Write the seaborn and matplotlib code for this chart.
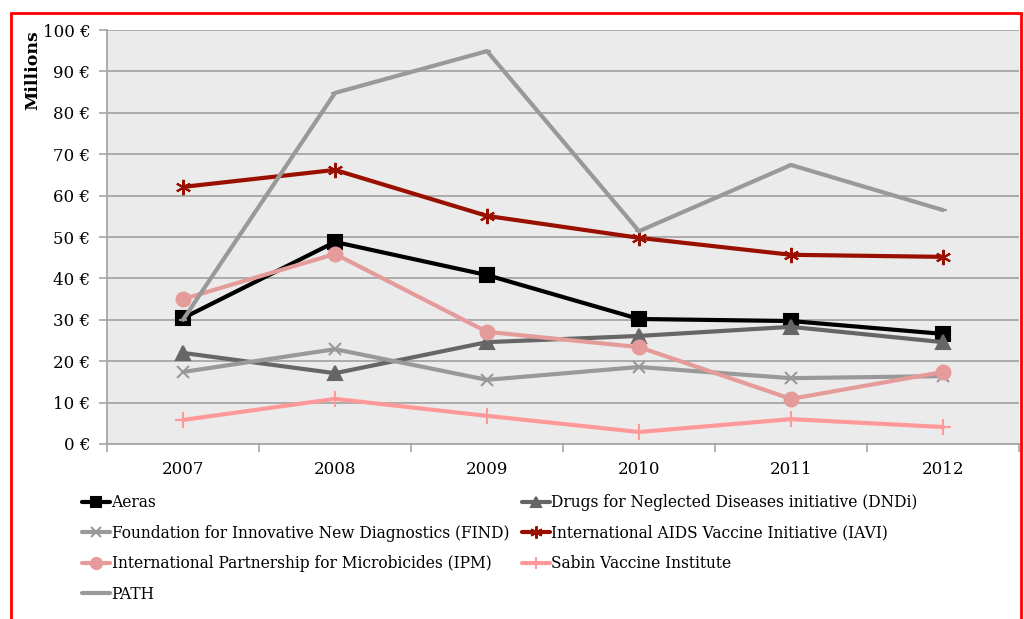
import matplotlib
matplotlib.use("Agg")
import matplotlib.pyplot as plt
import seaborn as sns
import pandas as pd
from matplotlib.patches import Rectangle
from matplotlib.ticker import FixedLocator, FuncFormatter

years = [2007, 2008, 2009, 2010, 2011, 2012]
aeras = [30.4, 48.8, 40.8, 30.2, 29.7, 26.6]
dndi = [22.0, 17.1, 24.6, 26.1, 28.3, 24.6]
find = [17.4, 22.9, 15.5, 18.6, 15.9, 16.4]
iavi = [62.1, 66.2, 55.1, 49.8, 45.7, 45.2]
ipm = [35.0, 45.9, 27.1, 23.4, 10.9, 17.4]
sabin = [5.8, 10.9, 6.8, 2.9, 6.0, 4.1]
path = [30.0, 84.8, 94.9, 51.4, 67.4, 56.5]

names = ["Aeras",
         "Drugs for Neglected Diseases initiative (DNDi)",
         "Foundation for Innovative New Diagnostics (FIND)",
         "International AIDS Vaccine Initiative (IAVI)",
         "International Partnership for Microbicides (IPM)",
         "Sabin Vaccine Institute",
         "PATH"]
series = [aeras, dndi, find, iavi, ipm, sabin, path]
colors = ["#000000", "#666666", "#999999", "#990f00", "#e69b9b", "#ff9999", "#999999"]
markers = ["s", "^", "x", (6, 2, 0), "o", "+", "_"]
msizes = [9.5, 9.5, 9, 11, 10, 11, 6]

sns.set_theme(style="white")
plt.rcParams["font.family"] = ["DejaVu Serif"]
plt.rcParams["text.color"] = "black"
plt.rcParams["xtick.labelcolor"] = "black"
plt.rcParams["ytick.labelcolor"] = "black"

fig = plt.figure(figsize=(10.24, 6.19), dpi=100)
ax = fig.add_axes([107/1024, 1-444/619, (1019-107)/1024, (444-30)/619])
ax.set_facecolor("#ebebeb")

for n, s, c, m, ms in zip(names, series, colors, markers, msizes):
    d = pd.DataFrame({"Year": years, "Value": s})
    sns.lineplot(data=d, x="Year", y="Value", color=c, marker=m, markersize=ms,
                 markeredgecolor=c, markerfacecolor=c, markeredgewidth=1.5,
                 linewidth=3, ax=ax, label=n, legend=False)

lines = ax.lines[:len(names)]

ax.set_xlim(2006.5, 2012.5)
ax.set_ylim(0, 100)
ax.set_yticks(range(0, 101, 10))
ax.yaxis.set_major_formatter(FuncFormatter(lambda v, p: f"{int(v)} €"))
ax.set_xticks(years)
ax.set_xticklabels([str(y) for y in years])
ax.xaxis.set_minor_locator(FixedLocator([2006.5 + i for i in range(7)]))
ax.tick_params(axis="x", which="major", length=0, pad=12, labelsize=12, labelcolor="black")
ax.tick_params(axis="x", which="minor", length=6, color="#a6a6a6", width=1.2, direction="out", bottom=True)
ax.tick_params(axis="y", length=6, color="#a6a6a6", width=1.2, direction="out", left=True, pad=6, labelsize=12, labelcolor="black")
ax.grid(axis="y", color="#a6a6a6", linewidth=1.3)
ax.set_axisbelow(True)
for s in ["top", "right"]:
    ax.spines[s].set_visible(False)
for s in ["left", "bottom"]:
    ax.spines[s].set_color("#a6a6a6")
    ax.spines[s].set_linewidth(1.3)
ax.set_xlabel("")
ax.set_ylabel("")

fig.text(33/1024, 1-70/619, "Millions", rotation=90, ha="center", va="center",
         fontsize=12.5, fontweight="bold", color="black")

order = [0, 2, 4, 6, 1, 3, 5]
leg = fig.legend([lines[i] for i in order], [names[i] for i in order],
                 ncol=2, loc="upper left", bbox_to_anchor=(82/1024, 1-494/619),
                 frameon=False, fontsize=11.2, handlelength=1.8, handletextpad=0.1,
                 columnspacing=0.8, labelspacing=0.87, borderaxespad=0, borderpad=0,
                 markerscale=0.8, labelcolor="black")

fig.patches.append(Rectangle((11/1024, -0.1), (1021-11)/1024, 1.1 - 13/619,
                             transform=fig.transFigure, fill=False,
                             edgecolor="#ff0000", linewidth=2, zorder=10))

fig.savefig("out.png", dpi=100)
